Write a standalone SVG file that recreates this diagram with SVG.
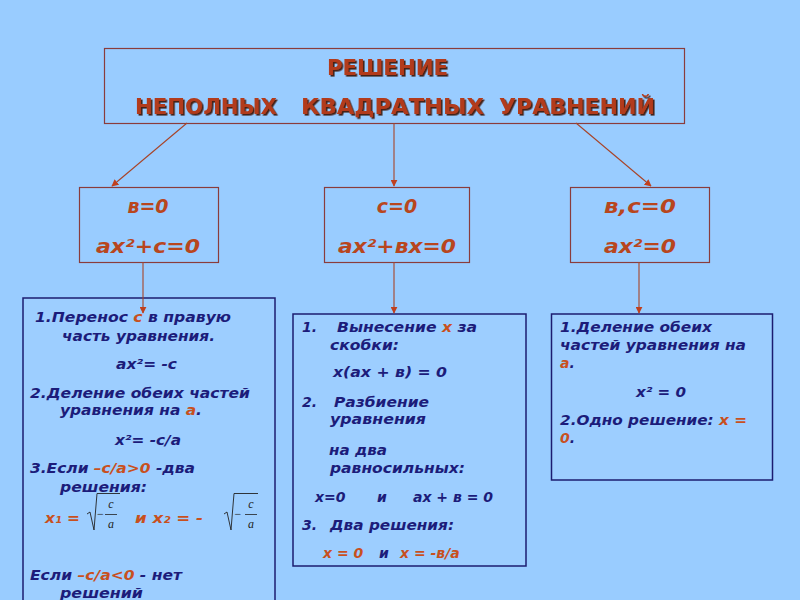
<svg xmlns="http://www.w3.org/2000/svg" width="800" height="600" viewBox="0 0 800 600">
<defs>
  <filter id="shadow" x="-5%" y="-20%" width="110%" height="150%">
    <feDropShadow dx="1.6" dy="1.6" stdDeviation="0.4" flood-color="#3a0e06" flood-opacity="0.9"/>
  </filter>
  <marker id="arrow" viewBox="0 0 10 10" refX="9" refY="5" markerWidth="7" markerHeight="7" markerUnits="userSpaceOnUse" orient="auto">
    <path d="M0,0 L10,5 L0,10 z" fill="#c0401e"/>
  </marker>
  <style>
    .bg { fill: #99ccff; }
    .rbox { fill: none; stroke: #8a3c3c; stroke-width: 1.2; }
    .nbox { fill: #9dceff; stroke: #1c1c70; stroke-width: 1.5; }
    .conn { stroke: #a84428; stroke-width: 1.1; fill: none; }
    .title { font-family: "DejaVu Sans", "Liberation Sans", sans-serif; font-weight: bold; font-size: 22px; fill: #b23a1a; filter: url(#shadow); }
    .cond { font-family: "DejaVu Sans", "Liberation Sans", sans-serif; font-weight: bold; font-style: italic; font-size: 19px; fill: #b8461e; text-anchor: middle; }
    .t { font-family: "DejaVu Sans", "Liberation Sans", sans-serif; font-weight: bold; font-style: italic; font-size: 14px; fill: #1c1c7a; }
    .r { fill: #c8501e; }
    .frac { font-family: "Liberation Serif", serif; font-style: italic; font-size: 12px; fill: #222; text-anchor: middle; }
    .minus { font-family: "Liberation Serif", serif; font-size: 12px; fill: #222; text-anchor: middle; }
    .rad { fill: none; stroke: #222; stroke-width: 0.9; stroke-linejoin: miter; }
    .bar { stroke: #222; stroke-width: 0.8; }
  </style>
</defs>
<rect class="bg" x="0" y="0" width="800" height="600"/>

<g id="root">
  <rect class="rbox" x="104.5" y="48.5" width="580" height="75"/>
  <text class="title" x="327" y="75" textLength="121" lengthAdjust="spacingAndGlyphs">РЕШЕНИЕ</text>
  <text class="title" y="114"><tspan x="135" textLength="142" lengthAdjust="spacingAndGlyphs">НЕПОЛНЫХ</tspan><tspan x="301" textLength="183" lengthAdjust="spacingAndGlyphs">КВАДРАТНЫХ</tspan><tspan x="499" textLength="156" lengthAdjust="spacingAndGlyphs">УРАВНЕНИЙ</tspan></text>
</g>

<g id="case-b0">
  <rect class="rbox" x="79.5" y="187.5" width="139" height="75"/>
  <text class="cond" x="148" y="213">в=0</text>
  <text class="cond" x="148" y="253" textLength="104" lengthAdjust="spacingAndGlyphs">ax²+c=0</text>
</g>

<g id="case-c0">
  <rect class="rbox" x="324.5" y="187.5" width="145" height="75"/>
  <text class="cond" x="397" y="213">с=0</text>
  <text class="cond" x="397" y="253" textLength="118" lengthAdjust="spacingAndGlyphs">ax²+вх=0</text>
</g>

<g id="case-bc0">
  <rect class="rbox" x="570.5" y="187.5" width="139" height="75"/>
  <text class="cond" x="640" y="213" textLength="72" lengthAdjust="spacingAndGlyphs">в,с=0</text>
  <text class="cond" x="640" y="253" textLength="72" lengthAdjust="spacingAndGlyphs">ax²=0</text>
</g>

<g id="solution-b0">
  <rect class="nbox" x="23" y="298" width="252" height="310"/>
  <text class="t" x="35" y="322" textLength="196" lengthAdjust="spacingAndGlyphs">1.Перенос <tspan class="r">с</tspan> в правую</text>
  <text class="t" x="62" y="341" textLength="153" lengthAdjust="spacingAndGlyphs">часть уравнения.</text>
  <text class="t" x="116" y="369" textLength="61" lengthAdjust="spacingAndGlyphs">ax²= -c</text>
  <text class="t" x="30" y="398" textLength="220" lengthAdjust="spacingAndGlyphs">2.Деление обеих частей</text>
  <text class="t" x="60" y="415" textLength="142" lengthAdjust="spacingAndGlyphs">уравнения на <tspan class="r">а</tspan>.</text>
  <text class="t" x="115" y="445" textLength="66" lengthAdjust="spacingAndGlyphs">x²= -c/a</text>
  <text class="t" x="30" y="473" textLength="165" lengthAdjust="spacingAndGlyphs">3.Если <tspan class="r">–c/a&gt;0</tspan> -два</text>
  <text class="t" x="60" y="492" textLength="87" lengthAdjust="spacingAndGlyphs">решения:</text>
  <text class="t r" x="45" y="523" textLength="35" lengthAdjust="spacingAndGlyphs">x₁ =</text>
  <polyline class="rad" points="87,514 90,512 94,530 97,493.5 120,493.5"/>
  <text class="minus" x="100.5" y="518">−</text>
  <line class="bar" x1="105" y1="514.5" x2="117" y2="514.5"/>
  <text class="frac" x="111" y="508">c</text>
  <text class="frac" x="111" y="528">a</text>
  <text class="t r" x="135" y="523" textLength="68" lengthAdjust="spacingAndGlyphs">и  x₂ = -</text>
  <polyline class="rad" points="224,514 227,512 231,530 234,493.5 258,493.5"/>
  <text class="minus" x="238" y="518">−</text>
  <line class="bar" x1="245" y1="514.5" x2="257" y2="514.5"/>
  <text class="frac" x="251" y="508">c</text>
  <text class="frac" x="251" y="528">a</text>
  <text class="t" x="30" y="580" textLength="152" lengthAdjust="spacingAndGlyphs">Если <tspan class="r">–c/a&lt;0</tspan> - нет</text>
  <text class="t" x="60" y="598" textLength="83" lengthAdjust="spacingAndGlyphs">решений</text>
</g>

<g id="solution-c0">
  <rect class="nbox" x="293" y="314" width="233" height="252"/>
  <text class="t" x="302" y="332">1.</text>
  <text class="t" x="337" y="332" textLength="140" lengthAdjust="spacingAndGlyphs">Вынесение <tspan class="r">x</tspan> за</text>
  <text class="t" x="330" y="350" textLength="69" lengthAdjust="spacingAndGlyphs">скобки:</text>
  <text class="t" x="333" y="377" textLength="114" lengthAdjust="spacingAndGlyphs">x(ax + в) = 0</text>
  <text class="t" x="302" y="407">2.</text>
  <text class="t" x="334" y="407" textLength="95" lengthAdjust="spacingAndGlyphs">Разбиение</text>
  <text class="t" x="330" y="424" textLength="96" lengthAdjust="spacingAndGlyphs">уравнения</text>
  <text class="t" x="329" y="455" textLength="58" lengthAdjust="spacingAndGlyphs">на два</text>
  <text class="t" x="330" y="473" textLength="135" lengthAdjust="spacingAndGlyphs">равносильных:</text>
  <text class="t" y="502"><tspan x="315">x=0</tspan><tspan x="377">и</tspan><tspan x="413">ax + в = 0</tspan></text>
  <text class="t" x="302" y="530">3.</text>
  <text class="t" x="330" y="530" textLength="124" lengthAdjust="spacingAndGlyphs">Два решения:</text>
  <text class="t" y="558"><tspan class="r" x="323">x = 0</tspan><tspan x="379">и</tspan><tspan class="r" x="400">x = -в/а</tspan></text>
</g>

<g id="solution-bc0">
  <rect class="nbox" x="551.5" y="314" width="221" height="166"/>
  <text class="t" x="560" y="332" textLength="152" lengthAdjust="spacingAndGlyphs">1.Деление обеих</text>
  <text class="t" x="560" y="350" textLength="186" lengthAdjust="spacingAndGlyphs">частей уравнения на</text>
  <text class="t" x="560" y="368"><tspan class="r">а</tspan>.</text>
  <text class="t" x="636" y="397" textLength="50" lengthAdjust="spacingAndGlyphs">x² = 0</text>
  <text class="t" x="560" y="425" textLength="187" lengthAdjust="spacingAndGlyphs">2.Одно решение: <tspan class="r">x =</tspan></text>
  <text class="t" x="560" y="443"><tspan class="r">0</tspan>.</text>
</g>

<g id="connectors">
  <line class="conn" x1="187" y1="123" x2="112" y2="186" marker-end="url(#arrow)"/>
  <line class="conn" x1="394" y1="123" x2="394" y2="186" marker-end="url(#arrow)"/>
  <line class="conn" x1="576" y1="123" x2="651" y2="186" marker-end="url(#arrow)"/>
  <line class="conn" x1="143" y1="262" x2="143" y2="313" marker-end="url(#arrow)"/>
  <line class="conn" x1="394" y1="262" x2="394" y2="313" marker-end="url(#arrow)"/>
  <line class="conn" x1="639" y1="262" x2="639" y2="313" marker-end="url(#arrow)"/>
</g>
</svg>
